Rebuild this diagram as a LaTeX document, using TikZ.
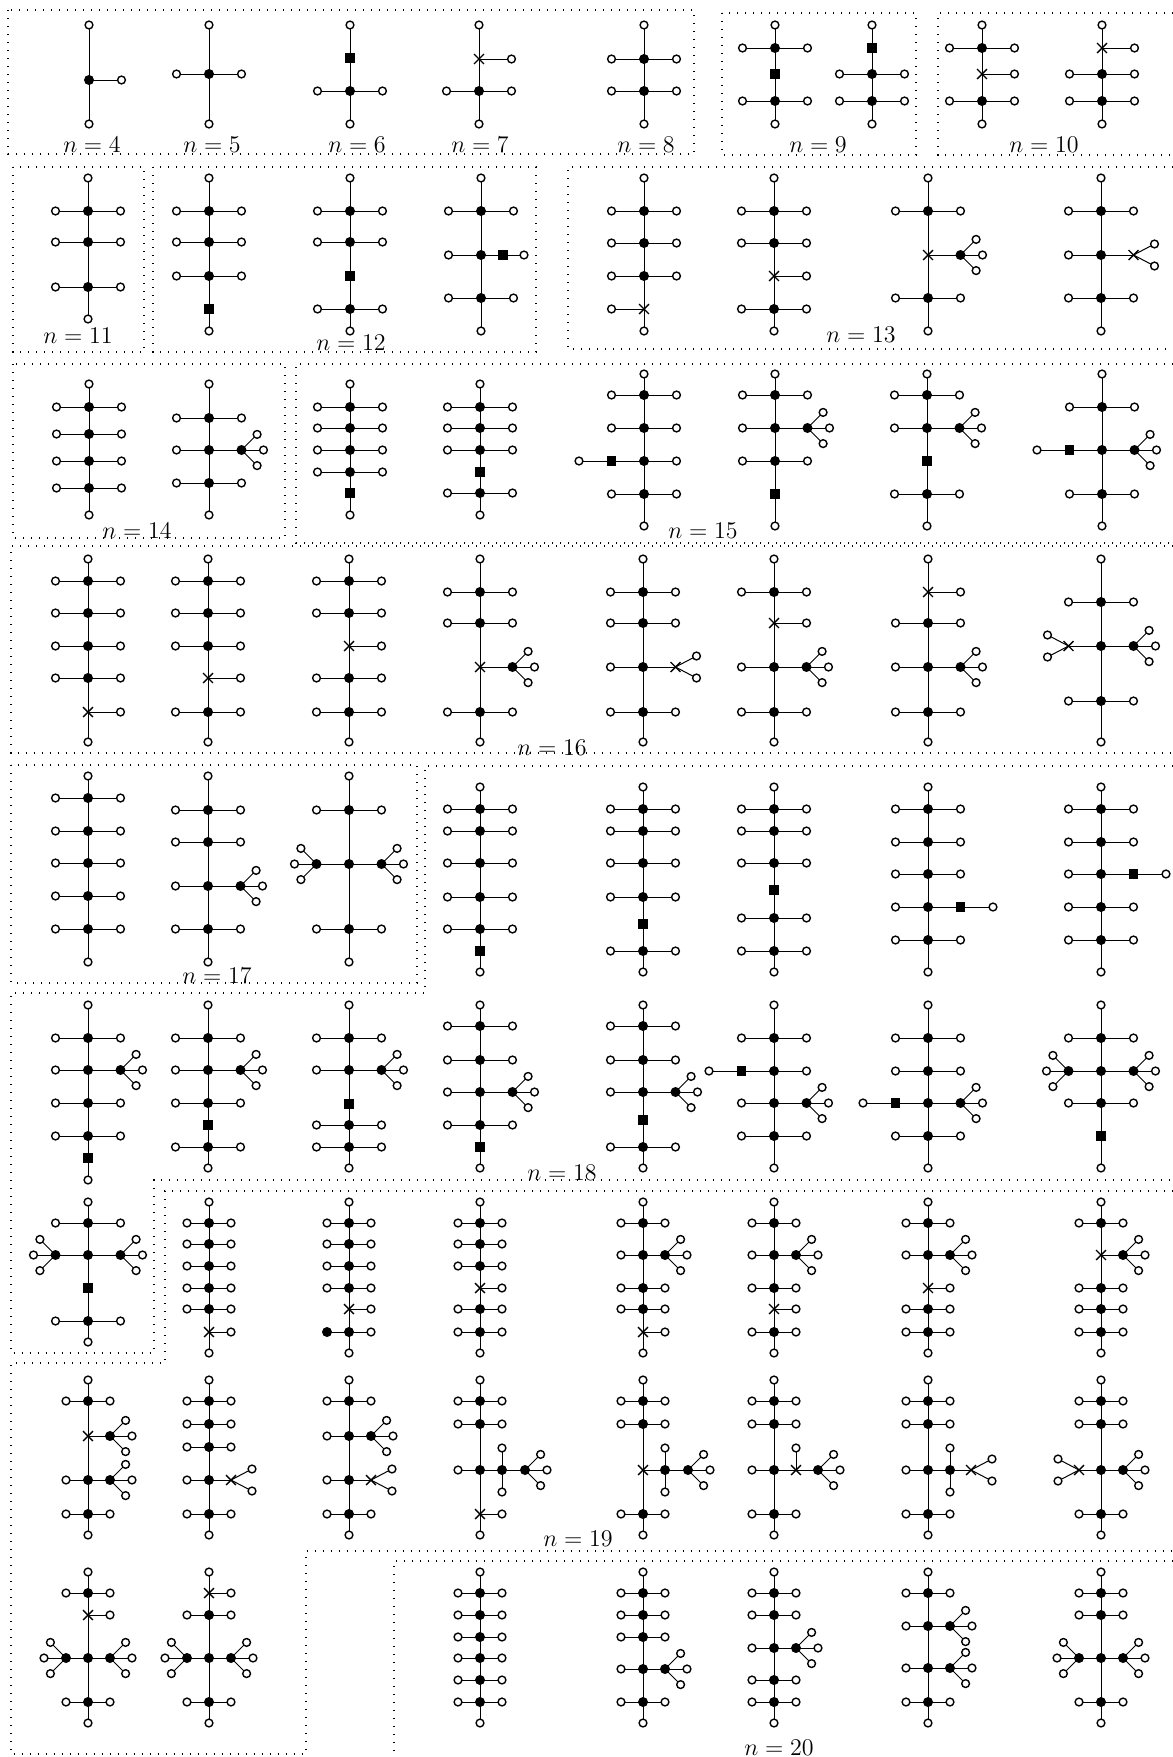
\documentclass[tikz,border=0pt]{standalone}
\usetikzlibrary{shapes.misc}
\tikzset{
  tleaf/.style={circle,draw=black,fill=white,line width=0.7pt,inner sep=0pt,minimum size=3.9pt},
  tdot/.style={circle,fill=black,inner sep=0pt,minimum size=5pt},
  tsq/.style={rectangle,fill=black,inner sep=0pt,minimum size=4.8pt},
  tcross/.style={cross out,draw=black,line width=0.7pt,inner sep=0pt,minimum size=4.2pt},
  tedge/.style={line width=0.5pt,black},
  tbox/.style={line width=0.6pt,dash pattern=on 0.6pt off 3.4pt},
  tlab/.style={font=\fontsize{12}{14}\selectfont,inner sep=0pt}
}
\newcounter{nid}
\newif\ifZedges
\newcommand\Zedge[2]{\ifZedges\draw[tedge] (#1) -- (#2);\fi}
\newcommand\Zmk[3]{\stepcounter{nid}\ifZedges\coordinate (v\thenid) at ({#2},{#3});\else\node[#1] (v\thenid) at ({#2},{#3}) {};\fi\xdef\Zlast{v\thenid}}
\newcommand\Zstart[3]{\gdef\ZX{#1}\gdef\ZD{#2}\Zmk{tleaf}{#1}{#3}\xdef\Zprev{\Zlast}}
\newcommand\Zsp[2]{\Zmk{#1}{\ZX}{#2}\Zedge{\Zprev}{\Zlast}\xdef\Zprev{\Zlast}\xdef\Zcur{\Zlast}\gdef\ZY{#2}}
\newcommand\Zd[1]{\Zsp{tdot}{#1}}
\newcommand\Zq[1]{\Zsp{tsq}{#1}}
\newcommand\Zc[1]{\Zsp{tcross}{#1}}
\newcommand\Zbot[1]{\Zmk{tleaf}{\ZX}{#1}\Zedge{\Zprev}{\Zlast}}
\newcommand\Zbr[4]{\xdef\Zbp{#2}\Zmk{#1}{#3}{#4}\Zedge{\Zbp}{\Zlast}}
\newcommand\Zl{\Zbr{tleaf}{\Zcur}{\ZX-\ZD}{\ZY}}
\newcommand\Zr{\Zbr{tleaf}{\Zcur}{\ZX+\ZD}{\ZY}}
\newcommand\Zlr{\Zl\Zr}
\newcommand\Zfan[4]{\Zbr{tdot}{#1}{#2}{#3}\xdef\Zfc{\Zlast}%
  \Zbr{tleaf}{\Zfc}{#2+(#4)*15.6}{#3-15.6}%
  \Zbr{tleaf}{\Zfc}{#2+(#4)*22}{#3}%
  \Zbr{tleaf}{\Zfc}{#2+(#4)*15.6}{#3+15.6}}
\newcommand\Zrf{\Zfan{\Zcur}{\ZX+\ZD}{\ZY}{1}}
\newcommand\Zlf{\Zfan{\Zcur}{\ZX-\ZD}{\ZY}{-1}}
\newcommand\Zxat[4]{\Zbr{tcross}{#1}{#2}{#3}\xdef\Zfc{\Zlast}%
  \Zbr{tleaf}{\Zfc}{#2+(#4)*21}{#3-11}%
  \Zbr{tleaf}{\Zfc}{#2+(#4)*21}{#3+11}}
\newcommand\Zrx{\Zxat{\Zcur}{\ZX+\ZD}{\ZY}{1}}
\newcommand\Zlx{\Zxat{\Zcur}{\ZX-\ZD}{\ZY}{-1}}
\newcommand\Zrs{\Zbr{tsq}{\Zcur}{\ZX+\ZD}{\ZY}\Zbr{tleaf}{\Zlast}{\ZX+2*\ZD}{\ZY}}
\newcommand\Zls{\Zbr{tsq}{\Zcur}{\ZX-\ZD}{\ZY}\Zbr{tleaf}{\Zlast}{\ZX-2*\ZD}{\ZY}}
\newcommand\Zmid[1]{\Zbr{#1}{\Zcur}{\ZX+22}{\ZY}\xdef\Zm{\Zlast}}
\newcommand\Zup{\Zbr{tleaf}{\Zm}{\ZX+22}{\ZY-22}}
\newcommand\Zdn{\Zbr{tleaf}{\Zm}{\ZX+22}{\ZY+22}}
\newcommand\AllTrees{%
% ---------- row 1
\Zstart{89}{32.5}{25}\Zd{80}\Zr\Zbot{124}
\Zstart{209}{32.5}{25}\Zd{74}\Zlr\Zbot{124}
\Zstart{350}{32.5}{25}\Zq{58}\Zd{91}\Zlr\Zbot{124}
\Zstart{479}{32.5}{25}\Zc{59}\Zr\Zd{91}\Zlr\Zbot{124}
\Zstart{644}{32.5}{25}\Zd{59}\Zlr\Zd{91}\Zlr\Zbot{124}
\Zstart{775}{32.5}{25}\Zd{48}\Zlr\Zq{74}\Zd{101}\Zlr\Zbot{124}
\Zstart{872}{32.5}{25}\Zq{48}\Zd{74}\Zlr\Zd{101}\Zlr\Zbot{124}
\Zstart{982}{32.5}{25}\Zd{48}\Zlr\Zc{74}\Zr\Zd{101}\Zlr\Zbot{124}
\Zstart{1102}{32.5}{25}\Zc{48}\Zr\Zd{74}\Zlr\Zd{101}\Zlr\Zbot{124}
% ---------- row 2
\Zstart{88}{32.5}{178}\Zd{211}\Zlr\Zd{242}\Zlr\Zd{287}\Zlr\Zbot{319}
\Zstart{209}{32.5}{178}\Zd{211}\Zlr\Zd{242}\Zlr\Zd{276}\Zlr\Zq{309}\Zbot{331}
\Zstart{350}{32.5}{178}\Zd{211}\Zlr\Zd{242}\Zlr\Zq{276}\Zd{309}\Zlr\Zbot{331}
\Zstart{481}{32.5}{178}\Zd{211}\Zlr\Zd{255}\Zl\Zbr{tsq}{\Zcur}{\ZX+22}{\ZY}\Zbr{tleaf}{\Zlast}{\ZX+43}{\ZY}\Zd{298}\Zlr\Zbot{331}
\Zstart{644}{32.5}{178}\Zd{211}\Zlr\Zd{243}\Zlr\Zd{276}\Zlr\Zc{309}\Zl\Zbot{331}
\Zstart{774}{32.5}{178}\Zd{211}\Zlr\Zd{243}\Zlr\Zc{276}\Zr\Zd{309}\Zlr\Zbot{331}
\Zstart{928}{32.5}{178}\Zd{211}\Zlr\Zc{255}\Zrf\Zd{298}\Zlr\Zbot{331}
\Zstart{1101}{32.5}{178}\Zd{211}\Zlr\Zd{255}\Zl\Zrx\Zd{298}\Zlr\Zbot{331}
% ---------- row 3
\Zstart{89}{32.5}{384}\Zd{407}\Zlr\Zd{434}\Zlr\Zd{461}\Zlr\Zd{488}\Zlr\Zbot{515}
\Zstart{209}{32.5}{384}\Zd{418}\Zlr\Zd{450}\Zl\Zrf\Zd{483}\Zlr\Zbot{515}
\Zstart{350}{32.5}{384}\Zd{407}\Zlr\Zd{428}\Zlr\Zd{450}\Zlr\Zd{472}\Zlr\Zq{493}\Zbot{515}
\Zstart{480}{32.5}{384}\Zd{407}\Zlr\Zd{428}\Zlr\Zd{450}\Zlr\Zq{472}\Zd{493}\Zlr\Zbot{515}
\Zstart{644}{32.5}{374}\Zd{395}\Zlr\Zd{428}\Zlr\Zd{461}\Zls\Zr\Zd{494}\Zlr\Zbot{526}
\Zstart{775}{32.5}{374}\Zd{395}\Zlr\Zd{428}\Zl\Zrf\Zd{461}\Zlr\Zq{494}\Zbot{526}
\Zstart{927}{32.5}{374}\Zd{395}\Zlr\Zd{428}\Zl\Zrf\Zq{461}\Zd{494}\Zlr\Zbot{526}
\Zstart{1102}{32.5}{374}\Zd{407}\Zlr\Zd{450}\Zls\Zrf\Zd{494}\Zlr\Zbot{526}
% ---------- row 4
\Zstart{88}{32.5}{559}\Zd{581}\Zlr\Zd{613}\Zlr\Zd{646}\Zlr\Zd{678}\Zlr\Zc{712}\Zr\Zbot{742}
\Zstart{208}{32.5}{559}\Zd{581}\Zlr\Zd{613}\Zlr\Zd{646}\Zlr\Zc{678}\Zr\Zd{712}\Zlr\Zbot{742}
\Zstart{349}{32.5}{559}\Zd{581}\Zlr\Zd{613}\Zlr\Zc{646}\Zr\Zd{678}\Zlr\Zd{712}\Zlr\Zbot{742}
\Zstart{480}{32.5}{559}\Zd{592}\Zlr\Zd{623}\Zlr\Zc{667}\Zrf\Zd{712}\Zlr\Zbot{742}
\Zstart{643}{32.5}{559}\Zd{592}\Zlr\Zd{623}\Zlr\Zd{667}\Zl\Zrx\Zd{712}\Zlr\Zbot{742}
\Zstart{774}{32.5}{559}\Zd{592}\Zlr\Zc{623}\Zr\Zd{667}\Zl\Zrf\Zd{712}\Zlr\Zbot{742}
\Zstart{928}{32.5}{559}\Zc{592}\Zr\Zd{623}\Zlr\Zd{667}\Zl\Zrf\Zd{712}\Zlr\Zbot{742}
\Zstart{1101}{32.5}{559}\Zd{602}\Zlr\Zd{646}\Zlx\Zrf\Zd{701}\Zlr\Zbot{742}
% ---------- row 5
\Zstart{88}{32.5}{776}\Zd{798}\Zlr\Zd{831}\Zlr\Zd{863}\Zlr\Zd{896}\Zlr\Zd{929}\Zlr\Zbot{962}
\Zstart{208}{32.5}{776}\Zd{810}\Zlr\Zd{842}\Zlr\Zd{886}\Zl\Zrf\Zd{929}\Zlr\Zbot{962}
\Zstart{349}{32.5}{776}\Zd{810}\Zlr\Zd{864}\Zlf\Zrf\Zd{929}\Zlr\Zbot{962}
\Zstart{480}{32.5}{787}\Zd{809}\Zlr\Zd{831}\Zlr\Zd{863}\Zlr\Zd{897}\Zlr\Zd{929}\Zlr\Zq{951}\Zbot{972}
\Zstart{643}{32.5}{787}\Zd{809}\Zlr\Zd{831}\Zlr\Zd{863}\Zlr\Zd{897}\Zlr\Zq{924}\Zd{951}\Zlr\Zbot{972}
\Zstart{774}{32.5}{787}\Zd{809}\Zlr\Zd{831}\Zlr\Zd{863}\Zlr\Zq{890}\Zd{918}\Zlr\Zd{951}\Zlr\Zbot{972}
\Zstart{928}{32.5}{787}\Zd{809}\Zlr\Zd{842}\Zlr\Zd{874}\Zlr\Zd{907}\Zl\Zrs\Zd{940}\Zlr\Zbot{972}
\Zstart{1101}{32.5}{787}\Zd{809}\Zlr\Zd{842}\Zlr\Zd{874}\Zl\Zrs\Zd{907}\Zlr\Zd{940}\Zlr\Zbot{972}
% ---------- row 6
\Zstart{88}{32.5}{1005}\Zd{1038}\Zlr\Zd{1070}\Zl\Zrf\Zd{1103}\Zlr\Zd{1136}\Zlr\Zq{1158}\Zbot{1180}
\Zstart{208}{32.5}{1005}\Zd{1038}\Zlr\Zd{1070}\Zl\Zrf\Zd{1103}\Zlr\Zq{1125}\Zd{1147}\Zlr\Zbot{1168}
\Zstart{349}{32.5}{1005}\Zd{1038}\Zlr\Zd{1070}\Zl\Zrf\Zq{1104}\Zd{1125}\Zlr\Zd{1147}\Zlr\Zbot{1168}
\Zstart{480}{32.5}{1005}\Zd{1026}\Zlr\Zd{1060}\Zlr\Zd{1092}\Zl\Zrf\Zd{1125}\Zlr\Zq{1147}\Zbot{1168}
\Zstart{643}{32.5}{1005}\Zd{1026}\Zlr\Zd{1060}\Zlr\Zd{1092}\Zl\Zrf\Zq{1120}\Zd{1147}\Zlr\Zbot{1168}
\Zstart{774}{32.5}{1005}\Zd{1038}\Zlr\Zd{1071}\Zls\Zr\Zd{1103}\Zl\Zrf\Zd{1136}\Zlr\Zbot{1168}
\Zstart{928}{32.5}{1005}\Zd{1038}\Zlr\Zd{1071}\Zlr\Zd{1103}\Zls\Zrf\Zd{1136}\Zlr\Zbot{1168}
\Zstart{1101}{32.5}{1005}\Zd{1038}\Zlr\Zd{1071}\Zlf\Zrf\Zd{1103}\Zlr\Zq{1136}\Zbot{1168}
% ---------- row 7
\Zstart{88}{32.5}{1202}\Zd{1223}\Zlr\Zd{1255}\Zlf\Zrf\Zq{1288}\Zd{1321}\Zlr\Zbot{1342}
\Zstart{209}{22}{1202}\Zd{1223}\Zlr\Zd{1244}\Zlr\Zd{1266}\Zlr\Zd{1288}\Zlr\Zd{1309}\Zlr\Zc{1332}\Zr\Zbot{1353}
\Zstart{349}{22}{1202}\Zd{1223}\Zlr\Zd{1244}\Zlr\Zd{1266}\Zlr\Zd{1288}\Zlr\Zc{1309}\Zr\Zd{1332}\Zbr{tdot}{\Zcur}{\ZX-\ZD}{\ZY}\Zr\Zbot{1353}
\Zstart{480}{22}{1202}\Zd{1223}\Zlr\Zd{1244}\Zlr\Zd{1266}\Zlr\Zc{1288}\Zr\Zd{1309}\Zlr\Zd{1332}\Zlr\Zbot{1353}
\Zstart{643}{22}{1202}\Zd{1223}\Zlr\Zd{1255}\Zl\Zrf\Zd{1288}\Zlr\Zd{1309}\Zlr\Zc{1332}\Zr\Zbot{1353}
\Zstart{774}{22}{1202}\Zd{1223}\Zlr\Zd{1255}\Zl\Zrf\Zd{1288}\Zlr\Zc{1309}\Zr\Zd{1332}\Zlr\Zbot{1353}
\Zstart{928}{22}{1202}\Zd{1223}\Zlr\Zd{1255}\Zl\Zrf\Zc{1288}\Zr\Zd{1309}\Zlr\Zd{1332}\Zlr\Zbot{1353}
\Zstart{1101}{22}{1202}\Zd{1223}\Zlr\Zc{1255}\Zrf\Zd{1288}\Zlr\Zd{1309}\Zlr\Zd{1332}\Zlr\Zbot{1353}
% ---------- row 8
\Zstart{88}{22}{1380}\Zd{1401}\Zlr\Zc{1436}\Zrf\Zd{1480}\Zl\Zrf\Zd{1514}\Zlr\Zbot{1535}
\Zstart{209}{22}{1380}\Zd{1401}\Zlr\Zd{1424}\Zlr\Zd{1447}\Zlr\Zd{1480}\Zl\Zrx\Zd{1514}\Zlr\Zbot{1535}
\Zstart{349}{22}{1380}\Zd{1401}\Zlr\Zd{1436}\Zl\Zrf\Zd{1480}\Zl\Zrx\Zd{1514}\Zlr\Zbot{1535}
\Zstart{480}{22}{1380}\Zd{1401}\Zlr\Zd{1424}\Zlr\Zd{1470}\Zl\Zmid{tdot}\Zup\Zdn\Zfan{\Zm}{\ZX+45}{\ZY}{1}\Zc{1514}\Zr\Zbot{1535}
\Zstart{643}{22}{1380}\Zd{1401}\Zlr\Zd{1424}\Zlr\Zc{1470}\Zmid{tdot}\Zup\Zdn\Zfan{\Zm}{\ZX+45}{\ZY}{1}\Zd{1514}\Zlr\Zbot{1535}
\Zstart{774}{22}{1380}\Zd{1401}\Zlr\Zd{1424}\Zlr\Zd{1470}\Zl\Zmid{tcross}\Zup\Zfan{\Zm}{\ZX+44}{\ZY}{1}\Zd{1514}\Zlr\Zbot{1535}
\Zstart{928}{22}{1380}\Zd{1401}\Zlr\Zd{1424}\Zlr\Zd{1470}\Zl\Zmid{tdot}\Zup\Zdn\Zxat{\Zm}{\ZX+43}{\ZY}{1}\Zd{1514}\Zlr\Zbot{1535}
\Zstart{1101}{22}{1380}\Zd{1401}\Zlr\Zd{1424}\Zlr\Zd{1470}\Zlx\Zrf\Zd{1514}\Zlr\Zbot{1535}
% ---------- row 9
\Zstart{88}{22}{1572}\Zd{1593}\Zlr\Zc{1615}\Zr\Zd{1658}\Zlf\Zrf\Zd{1702}\Zlr\Zbot{1723}
\Zstart{209}{22}{1572}\Zc{1593}\Zr\Zd{1615}\Zlr\Zd{1658}\Zlf\Zrf\Zd{1702}\Zlr\Zbot{1723}
\Zstart{480}{22}{1572}\Zd{1593}\Zlr\Zd{1615}\Zlr\Zd{1637}\Zlr\Zd{1658}\Zlr\Zd{1680}\Zlr\Zd{1702}\Zlr\Zbot{1723}
\Zstart{643}{22}{1572}\Zd{1593}\Zlr\Zd{1615}\Zlr\Zd{1637}\Zlr\Zd{1669}\Zl\Zrf\Zd{1702}\Zlr\Zbot{1723}
\Zstart{774}{22}{1572}\Zd{1593}\Zlr\Zd{1615}\Zlr\Zd{1648}\Zl\Zrf\Zd{1680}\Zlr\Zd{1702}\Zlr\Zbot{1723}
\Zstart{928}{22}{1572}\Zd{1593}\Zlr\Zd{1626}\Zl\Zrf\Zd{1668}\Zl\Zrf\Zd{1702}\Zlr\Zbot{1723}
\Zstart{1101}{22}{1572}\Zd{1593}\Zlr\Zd{1615}\Zlr\Zd{1658}\Zlf\Zrf\Zd{1702}\Zlr\Zbot{1723}
}
\begin{document}
\begin{tikzpicture}[x=0.5pt,y=-0.5pt]
\useasboundingbox (0,0) rectangle (1173,1757);
\fill[white] (0,0) rectangle (1173,1757);
% ---------- boxes
\draw[tbox] (8,10) rectangle (694,154);
\draw[tbox] (722,13) rectangle (916,155);
\draw[tbox] (1173,13) -- (938,13) -- (938,155) -- (1173,155);
\draw[tbox] (13,167) rectangle (144,352);
\draw[tbox] (153,167) rectangle (536,352);
\draw[tbox] (1173,167) -- (568,167) -- (568,349) -- (1173,349);
\draw[tbox] (13,364) rectangle (285,538);
\draw[tbox] (1173,364) -- (296,364) -- (296,543) -- (1173,543);
\draw[tbox] (1173,546) -- (11,546) -- (11,753) -- (1173,753);
\draw[tbox] (11,765) rectangle (417,983);
\draw[tbox] (1173,766) -- (425,766) -- (425,993) -- (11,993) -- (11,1353) -- (154,1353) -- (154,1180) -- (1173,1180);
\draw[tbox] (1173,1191) -- (165,1191) -- (165,1363) -- (11,1363) -- (11,1754) -- (306,1754) -- (306,1551) -- (1173,1551);
\draw[tbox] (1173,1561) -- (394,1561) -- (394,1757);
% ---------- labels
\node[tlab] (l4) at (92,145) {$n=4$};
\node[tlab] (l5) at (212,145) {$n=5$};
\node[tlab] (l6) at (357,145) {$n=6$};
\node[tlab] (l7) at (480,145) {$n=7$};
\node[tlab] (l8) at (646,145) {$n=8$};
\node[tlab] (l9) at (818,145) {$n=9$};
\node[tlab] (l10) at (1044,145) {$n=10$};
\node[tlab] (l11) at (78,336) {$n=11$};
\node[tlab] (l12) at (351,343) {$n=12$};
\node[tlab] (l13) at (861,335) {$n=13$};
\node[tlab] (l14) at (137,531) {$n=14$};
\node[tlab] (l15) at (703,531) {$n=15$};
\node[tlab] (l16) at (552,748) {$n=16$};
\node[tlab] (l17) at (217,976) {$n=17$};
\node[tlab] (l18) at (562,1173) {$n=18$};
\node[tlab] (l19) at (578,1539) {$n=19$};
\node[tlab] (l20) at (779,1748) {$n=20$};
% ---------- trees: edges first, then vertices
\global\Zedgestrue\setcounter{nid}{0}\AllTrees
\global\Zedgesfalse\setcounter{nid}{0}\AllTrees
\end{tikzpicture}
\end{document}
